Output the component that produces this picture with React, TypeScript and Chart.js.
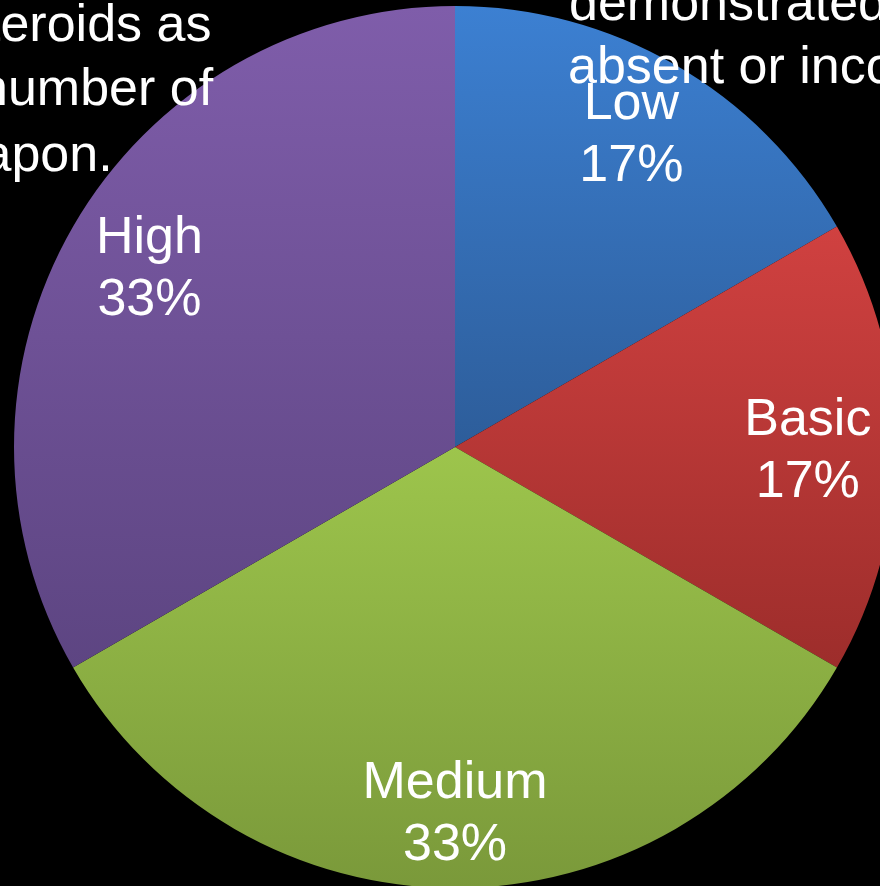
import React, { useEffect, useRef } from "react";
import { Chart, registerables } from "chart.js";

Chart.register(...registerables);

const CATEGORIES = ["Low", "Basic", "Medium", "High"];
const VALUES = [1, 1, 2, 2];
const TOP_COLORS = ["#3C80D2", "#D04140", "#9DC54C", "#7F5DAA"];
const BOTTOM_COLORS = ["#2D5D9A", "#9D2D2B", "#7A993A", "#5D4582"];
const LEFT_TEXT = [
  { text: "steroids as", left: -40, top: -9 },
  { text: "number of", left: -21, top: 55 },
  { text: "weapon.", left: -84, top: 121 },
];
const RIGHT_TEXT = [
  { text: "demonstrated", left: 569, top: -30 },
  { text: "absent or incorrect", left: 568, top: 33 },
];

const FONT = '"Liberation Sans", Arial, Helvetica, sans-serif';

function sliceYRange(i: number, cy: number, r: number): [number, number] {
  const total = VALUES.reduce((a, b) => a + b, 0);
  let before = 0;
  for (let k = 0; k < i; k++) before += VALUES[k];
  const a0 = (before / total) * Math.PI * 2;
  const a1 = ((before + VALUES[i]) / total) * Math.PI * 2;
  const ys = [cy, cy - r * Math.cos(a0), cy - r * Math.cos(a1)];
  if (a0 <= Math.PI && a1 >= Math.PI) ys.push(cy + r);
  return [Math.min(...ys), Math.max(...ys)];
}

const labelPlugin = {
  id: "sliceLabels",
  afterDatasetsDraw(chart: any) {
    const ctx = chart.ctx;
    const meta = chart.getDatasetMeta(0);
    const total = VALUES.reduce((a, b) => a + b, 0);
    ctx.save();
    ctx.fillStyle = "#FFFFFF";
    ctx.font = `52px ${FONT}`;
    ctx.textAlign = "center";
    ctx.textBaseline = "alphabetic";
    meta.data.forEach((arc: any, i: number) => {
      const p = arc.getProps(["x", "y", "startAngle", "endAngle", "outerRadius"], true);
      const mid = (p.startAngle + p.endAngle) / 2;
      const dx = p.outerRadius * 0.8;
      const dy = p.outerRadius * 0.825;
      const lx = p.x + Math.cos(mid) * dx;
      const ly = p.y + Math.sin(mid) * dy;
      const pct = Math.round((VALUES[i] / total) * 100) + "%";
      ctx.fillText(CATEGORIES[i], lx, ly - 12.5);
      ctx.fillText(pct, lx, ly + 49.5);
    });
    ctx.restore();
  },
};

export default function App() {
  const ref = useRef<HTMLCanvasElement | null>(null);

  useEffect(() => {
    if (!ref.current) return;
    const chart = new Chart(ref.current, {
      type: "pie",
      data: {
        labels: CATEGORIES,
        datasets: [
          {
            data: VALUES,
            borderWidth: 0,
            backgroundColor: (c: any) => {
              const chart = c.chart;
              const area = chart.chartArea;
              const i = c.dataIndex;
              if (!area || i === undefined) return TOP_COLORS[i ?? 0];
              const cy = (area.top + area.bottom) / 2;
              const r = Math.min(area.right - area.left, area.bottom - area.top) / 2;
              const [y0, y1] = sliceYRange(i, cy, r);
              const g = chart.ctx.createLinearGradient(0, y0, 0, y1);
              g.addColorStop(0, TOP_COLORS[i]);
              g.addColorStop(1, BOTTOM_COLORS[i]);
              return g;
            },
          },
        ],
      },
      options: {
        responsive: false,
        animation: false,
        layout: { padding: 0 },
        plugins: {
          legend: { display: false },
          tooltip: { enabled: false },
        },
      },
      plugins: [labelPlugin],
    });
    return () => chart.destroy();
  }, []);

  const textStyle: React.CSSProperties = {
    position: "absolute",
    color: "#FFFFFF",
    fontFamily: FONT,
    fontSize: "52px",
    lineHeight: "64px",
    whiteSpace: "nowrap",
    margin: 0,
  };

  return (
    <div
      style={{
        position: "fixed",
        left: 0,
        top: 0,
        width: 880,
        height: 886,
        background: "#000000",
        overflow: "hidden",
      }}
    >
      <canvas
        ref={ref}
        width={882}
        height={882}
        style={{ position: "absolute", left: 14, top: 6, width: 882, height: 882 }}
      />
      {LEFT_TEXT.map((t) => (
        <div key={t.text} style={{ ...textStyle, left: t.left, top: t.top }}>
          {t.text}
        </div>
      ))}
      {RIGHT_TEXT.map((t) => (
        <div key={t.text} style={{ ...textStyle, left: t.left, top: t.top }}>
          {t.text}
        </div>
      ))}
    </div>
  );
}
